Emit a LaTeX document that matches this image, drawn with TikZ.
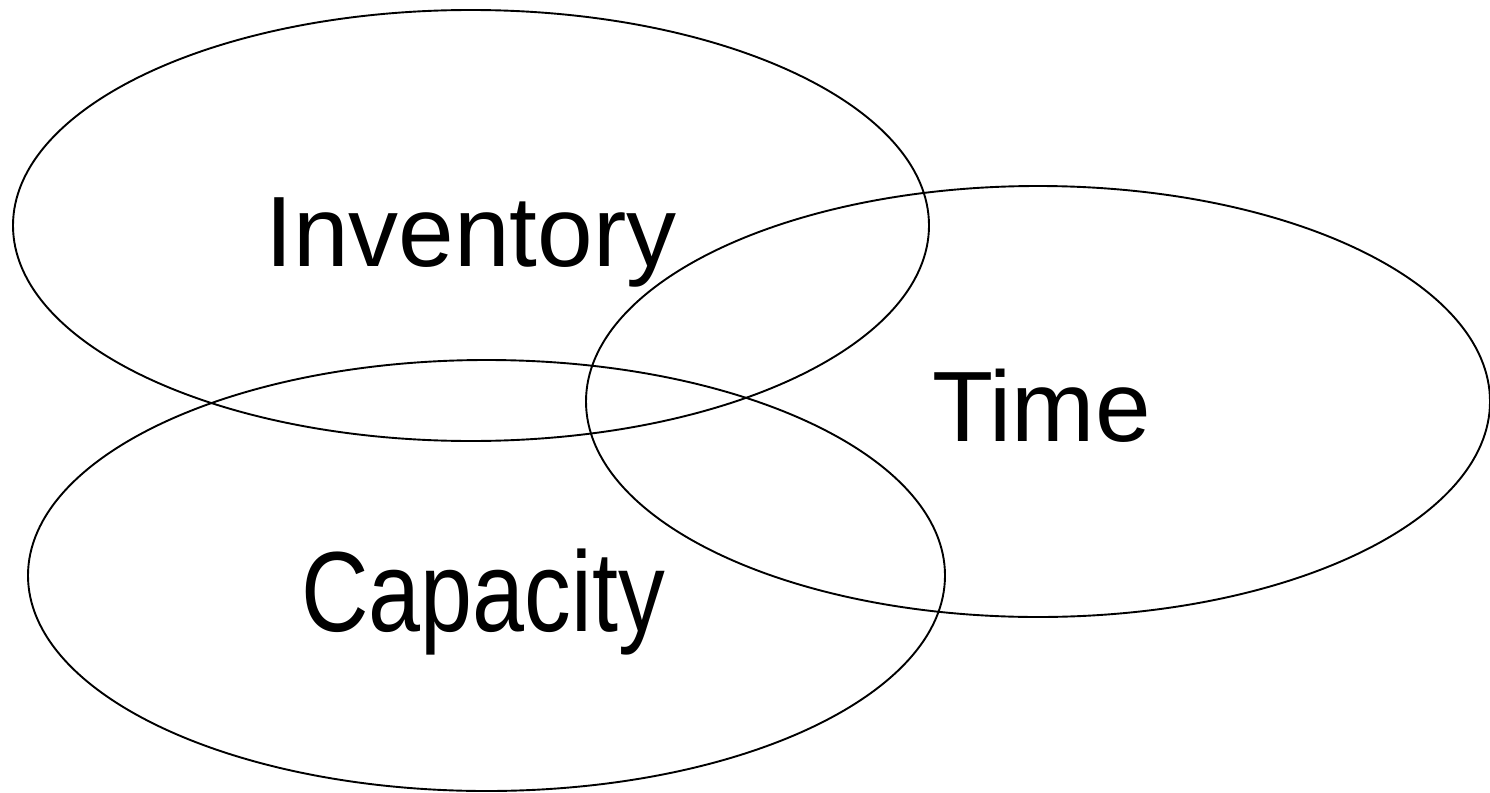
\documentclass[tikz,border=0pt]{standalone}
\usepackage{fontspec}
\setmainfont{Liberation Sans}
\begin{document}
\begin{tikzpicture}[x=1pt,y=-1pt,
  setring/.style={draw=black,line width=1.9pt,fill=none},
  setlabel/.style={anchor=base west,inner sep=0pt,font=\fontsize{100}{120}\selectfont}]
\useasboundingbox (0,0) rectangle (1490,792);
% three overlapping sets
\draw[setring] (471,225.5) ellipse [x radius=458, y radius=215.5];
\draw[setring] (1038,401.5) ellipse [x radius=452, y radius=215.5];
\draw[setring] (486.5,575.5) ellipse [x radius=458.5, y radius=215.5];
% set names
\node[setlabel] (inv) at (265,266) {Inventory};
\node[setlabel] (time) at (932,441) {Time};
\node[setlabel,font=\fontsize{114}{130}\selectfont] (cap) at (301,631) {\scalebox{0.82}[1]{Capacity}};
\end{tikzpicture}
\end{document}
